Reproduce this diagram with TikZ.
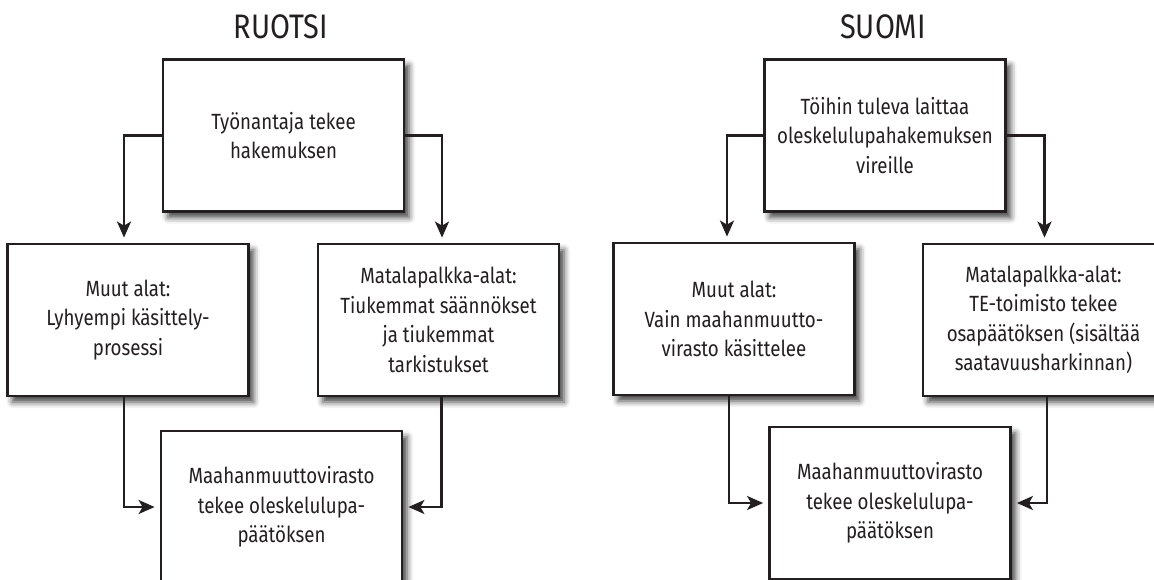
\documentclass[tikz,border=0pt]{standalone}
\usepackage{fontspec}
\setmainfont{Fira Sans}[FakeStretch=0.85]
\usetikzlibrary{arrows.meta,calc,shadows.blur}
\definecolor{ink}{HTML}{231F20}
\begin{document}
\begin{tikzpicture}[x=1pt,y=-1pt,
  box/.style={draw=ink, line width=2.8pt, fill=white, minimum width=241pt, minimum height=152pt,
    inner sep=0pt, align=center, text=ink, font=\fontsize{22}{29.5}\selectfont,
    blur shadow={shadow xshift=5pt, shadow yshift=-6pt, shadow blur radius=6pt, shadow opacity=75}},
  title/.style={text=ink, font=\fontsize{34}{36}\selectfont, inner sep=0pt},
  conn/.style={draw=ink, line width=2.3pt, -{Stealth[length=16pt,width=14pt,inset=4pt]}, shorten >=5pt}]
\useasboundingbox (0,0) rectangle (1154,580);
\begin{scope}
\clip (0,0) rectangle (1154,580);
% ---------- RUOTSI ----------
\node[title] (t1) at (281,27) {RUOTSI};
\node[box] (tA) at (283.5,135.5) {Työnantaja tekee\\hakemuksen};
\node[box] (mL) at (128,320) {Muut alat:\\Lyhyempi käsittely-\\prosessi};
\node[box] (mR) at (438.5,320) {Matalapalkka-alat:\\Tiukemmat säännökset\\ja tiukemmat\\tarkistukset};
\node[box] (bB) at (281.5,507) {Maahanmuuttovirasto\\tekee oleskelulupa-\\päätöksen};
\draw[conn] (tA.west) -| ($(mL.north)+(-4,0)$);
\draw[conn] (tA.east) -| ($(mR.north)+(3.5,0)$);
\draw[conn] ($(mL.south)+(-4,0)$) |- (bB.west);
\draw[conn] ($(mR.south)+(3,0)$) |- (bB.east);
% ---------- SUOMI ----------
\node[title] (t2) at (883,27) {SUOMI};
\node[box] (tB) at (885,135.5) {Töihin tuleva laittaa\\oleskelulupahakemuksen\\vireille};
\node[box] (nL) at (734,319) {Muut alat:\\Vain maahanmuutto-\\virasto käsittelee};
\node[box] (nR) at (1043.5,320) {Matalapalkka-alat:\\TE-toimisto tekee\\osapäätöksen (sisältää\\saatavuusharkinnan)};
\node[box] (bC) at (890,503) {Maahanmuuttovirasto\\tekee oleskelulupa-\\päätöksen};
\draw[conn] (tB.west) -| ($(nL.north)+(-7,0)$);
\draw[conn] (tB.east) -| ($(nR.north)+(1,0)$);
\draw[conn] ($(nL.south)+(-5,0)$) |- (bC.west);
\draw[conn] ($(nR.south)+(3.5,0)$) |- (bC.east);
\end{scope}
\end{tikzpicture}
\end{document}
